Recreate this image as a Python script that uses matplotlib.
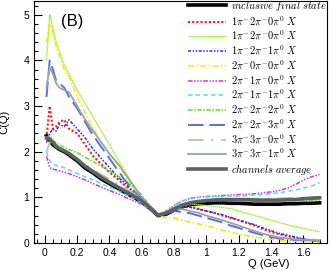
import matplotlib
matplotlib.use("Agg")
import matplotlib.pyplot as plt
from matplotlib.ticker import MultipleLocator

plt.rcParams["mathtext.fontset"] = "cm"
plt.rcParams["font.family"] = ["Liberation Sans", "DejaVu Sans"]

# shared Q grid (GeV)
q = [0.01, 0.03, 0.05, 0.07, 0.09, 0.12, 0.15, 0.2, 0.25, 0.3, 0.35, 0.4, 0.45,
     0.5, 0.55, 0.6, 0.65, 0.7, 0.75, 0.8, 0.85, 0.9, 0.95, 1.0, 1.05, 1.1,
     1.15, 1.2, 1.25, 1.3, 1.35, 1.4, 1.45, 1.5, 1.55, 1.6, 1.65, 1.7]

inclusive = [2.35, 2.25, 2.15, 2.1, 2.05, 2.0, 1.93, 1.8, 1.64, 1.53, 1.4, 1.3, 1.2,
             1.1, 1.0, 0.9, 0.76, 0.6, 0.63, 0.72, 0.79, 0.84, 0.86, 0.87, 0.88, 0.88,
             0.87, 0.87, 0.86, 0.85, 0.85, 0.85, 0.85, 0.86, 0.86, 0.87, 0.87, 0.88]
red_120 = [2.3, 3.0, 2.5, 2.55, 2.65, 2.7, 2.5, 2.4, 2.15, 1.9, 1.72, 1.55, 1.4,
           1.25, 1.1, 0.95, 0.78, 0.62, 0.68, 0.76, 0.8, 0.8, 0.75, 0.7, 0.66, 0.6,
           0.55, 0.5, 0.44, 0.38, 0.3, 0.24, 0.19, 0.15, 0.11, 0.08, 0.05, 0.04]
green_120 = [4.0, 5.0, 4.7, 4.4, 4.2, 3.9, 3.7, 3.35, 3.05, 2.75, 2.45, 2.15, 1.85,
             1.55, 1.25, 0.98, 0.78, 0.62, 0.66, 0.76, 0.82, 0.85, 0.84, 0.82, 0.8, 0.78,
             0.75, 0.7, 0.65, 0.6, 0.55, 0.5, 0.45, 0.4, 0.36, 0.32, 0.28, 0.25]
blue_121 = [2.2, 2.4, 2.5, 2.45, 2.6, 2.55, 2.7, 2.5, 2.3, 2.05, 1.85, 1.65, 1.45,
            1.3, 1.12, 0.95, 0.78, 0.62, 0.68, 0.75, 0.78, 0.78, 0.74, 0.7, 0.66, 0.62,
            0.56, 0.5, 0.45, 0.4, 0.33, 0.27, 0.21, 0.17, 0.13, 0.09, 0.06, 0.05]
yellow_200 = [4.4, 4.8, 4.6, 4.3, 4.1, 3.8, 3.65, 3.2, 2.85, 2.5, 2.2, 1.95, 1.7,
              1.45, 1.15, 0.92, 0.75, 0.6, 0.55, 0.55, 0.5, 0.45, 0.42, 0.38, 0.33, 0.28,
              0.24, 0.2, 0.16, 0.13, 0.1, 0.08, 0.06, 0.05, 0.04, 0.03, 0.03, 0.02]
magenta_210 = [1.9, 1.65, 1.62, 1.6, 1.58, 1.55, 1.52, 1.45, 1.38, 1.3, 1.22, 1.15, 1.08,
               1.0, 0.92, 0.85, 0.72, 0.6, 0.7, 0.82, 0.92, 0.98, 1.0, 1.02, 1.03, 1.04,
               1.05, 1.06, 1.07, 1.08, 1.1, 1.12, 1.15, 1.2, 1.28, 1.38, 1.45, 1.5]
cyan_211 = [2.0, 1.8, 1.72, 1.7, 1.68, 1.65, 1.6, 1.52, 1.45, 1.38, 1.3, 1.22, 1.15,
            1.06, 0.98, 0.88, 0.74, 0.6, 0.7, 0.82, 0.92, 0.97, 1.0, 1.01, 1.02, 1.02,
            1.03, 1.03, 1.04, 1.05, 1.06, 1.08, 1.1, 1.13, 1.16, 1.2, 1.25, 1.32]
green_222 = [2.3, 2.35, 2.25, 2.2, 2.15, 2.1, 2.05, 1.98, 1.88, 1.78, 1.68, 1.58, 1.47,
             1.36, 1.23, 1.05, 0.82, 0.62, 0.66, 0.75, 0.82, 0.87, 0.9, 0.92, 0.93, 0.93,
             0.93, 0.92, 0.92, 0.92, 0.92, 0.92, 0.92, 0.92, 0.93, 0.93, 0.93, 0.94]
blue_223 = [3.2, 4.0, 3.8, 3.55, 3.5, 3.4, 3.2, 2.95, 2.65, 2.35, 2.1, 1.85, 1.6,
            1.35, 1.15, 0.95, 0.78, 0.62, 0.65, 0.7, 0.68, 0.65, 0.6, 0.55, 0.5, 0.45,
            0.38, 0.33, 0.27, 0.22, 0.17, 0.13, 0.1, 0.08, 0.07, 0.06, 0.05, 0.05]
beige_330 = [2.0, 2.2, 2.25, 2.2, 2.15, 2.05, 1.98, 1.85, 1.72, 1.6, 1.5, 1.4, 1.3,
             1.2, 1.08, 0.95, 0.8, 0.63, 0.68, 0.78, 0.85, 0.9, 0.93, 0.95, 0.96, 0.96,
             0.97, 0.97, 0.97, 0.97, 0.97, 0.98, 0.98, 0.98, 0.99, 0.99, 1.0, 1.0]
gray_331 = [3.4, 3.85, 3.7, 3.5, 3.4, 3.35, 3.3, 3.0, 2.7, 2.45, 2.2, 1.95, 1.75,
            1.5, 1.25, 1.0, 0.8, 0.62, 0.68, 0.75, 0.74, 0.7, 0.66, 0.6, 0.55, 0.5,
            0.44, 0.38, 0.32, 0.26, 0.2, 0.16, 0.12, 0.1, 0.08, 0.07, 0.06, 0.06]
average = [2.3, 2.28, 2.2, 2.12, 2.07, 2.02, 1.96, 1.83, 1.68, 1.56, 1.44, 1.33, 1.23,
           1.13, 1.03, 0.92, 0.78, 0.61, 0.65, 0.75, 0.83, 0.88, 0.91, 0.93, 0.94, 0.95,
           0.95, 0.95, 0.95, 0.94, 0.94, 0.94, 0.94, 0.95, 0.95, 0.97, 0.98, 0.99]

# (label, values, colour, linewidth, dashes)
series = [
    (r"$\mathit{inclusive\ final\ state}$", inclusive, "black", 2.6, None),
    (r"$1\pi^{-}2\pi^{-}0\pi^{0}\ X$", red_120, "#ff1a1a", 1.5, (1, 1)),
    (r"$1\pi^{-}2\pi^{-}0\pi^{0}\ X$", green_120, "#99ee22", 1.0, (1, 0.4)),
    (r"$1\pi^{-}2\pi^{-}1\pi^{0}\ X$", blue_121, "#2233ee", 1.1, (2, 1, 1, 1, 1, 1)),
    (r"$2\pi^{-}0\pi^{-}0\pi^{0}\ X$", yellow_200, "#f0f000", 1.1, (4, 1.5, 1, 1.5)),
    (r"$2\pi^{-}1\pi^{-}0\pi^{0}\ X$", magenta_210, "#cc33ee", 1.1, (3, 1, 1, 1, 1, 1, 1, 1)),
    (r"$2\pi^{-}1\pi^{-}1\pi^{0}\ X$", cyan_211, "#55dddd", 1.1, (3, 2)),
    (r"$2\pi^{-}2\pi^{-}2\pi^{0}\ X$", green_222, "#66dd22", 1.1, (3, 1, 1, 1)),
    (r"$2\pi^{-}2\pi^{-}3\pi^{0}\ X$", blue_223, "#5570e8", 1.4, (8, 3)),
    (r"$3\pi^{-}3\pi^{-}0\pi^{0}\ X$", beige_330, "#c8c4b4", 1.4, (8, 4, 1, 4)),
    (r"$3\pi^{-}3\pi^{-}1\pi^{0}\ X$", gray_331, "#9aa4a4", 1.3, None),
    (r"$\mathit{channels\ average}$", average, "#5a6262", 2.6, None),
]

fig = plt.figure(figsize=(3.32, 2.70), dpi=100)
ax = fig.add_axes([0.102, 0.1, 0.883, 0.896])

for label, vals, color, lw, dashes in series:
    line, = ax.plot(q, vals, color=color, lw=lw, label=label)
    if dashes is not None:
        line.set_dashes(dashes)

ax.set_xlim(-0.068, 1.746)
ax.set_ylim(0, 5.3)
ax.xaxis.set_major_locator(MultipleLocator(0.2))
ax.xaxis.set_minor_locator(MultipleLocator(0.05))
ax.yaxis.set_major_locator(MultipleLocator(1))
ax.yaxis.set_minor_locator(MultipleLocator(0.2))
ax.tick_params(which="both", direction="in", top=False, right=False, labelsize=7.5)
ax.tick_params(which="major", length=6, width=0.8)
ax.tick_params(which="minor", length=3, width=0.8)
ax.set_xticks([0, 0.2, 0.4, 0.6, 0.8, 1.0, 1.2, 1.4, 1.6])
ax.set_xticklabels(["0", "0.2", "0.4", "0.6", "0.8", "1", "1.2", "1.4", "1.6"])

ax.set_xlabel("Q (GeV)", fontsize=8)
ax.xaxis.set_label_coords(0.8, -0.065)
ax.set_ylabel("C(Q)", fontsize=8)
ax.yaxis.set_label_coords(-0.085, 0.5)

ax.text(0.17, 4.85, "(B)", fontsize=12, ha="center", va="center")

ax.legend(loc="upper right", frameon=False, fontsize=7.5, handlelength=3.6,
          handletextpad=0.45, labelspacing=0.14, borderaxespad=0.0,
          borderpad=0.15, bbox_to_anchor=(1.003, 1.015))

fig.savefig("out.png", dpi=100)
